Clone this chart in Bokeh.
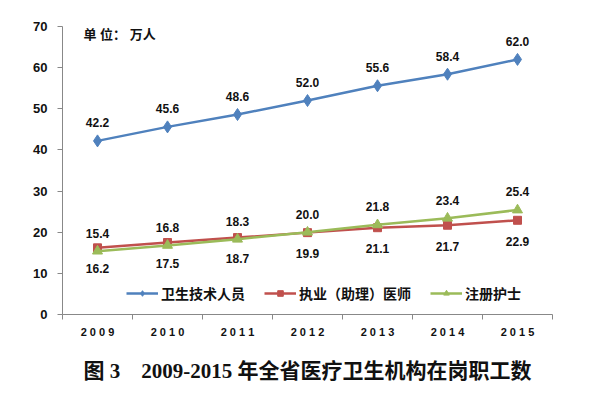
from bokeh.plotting import figure
from bokeh.models import (FixedTicker, Legend, LegendItem, Label, Title, ColumnDataSource, LabelSet, Range1d)
from bokeh.core.properties import value
from bokeh.embed import file_html
from bokeh.resources import INLINE

years = ["2009", "2010", "2011", "2012", "2013", "2014", "2015"]
health_tech = [42.2, 45.6, 48.6, 52.0, 55.6, 58.4, 62.0]
doctors = [16.2, 17.5, 18.7, 19.9, 21.1, 21.7, 22.9]
nurses = [15.4, 16.8, 18.3, 20.0, 21.8, 23.4, 25.4]
series_names = ["卫生技术人员", "执业（助理）医师", "注册护士"]
y_ticks = [0, 10, 20, 30, 40, 50, 60, 70]
unit_text = "单 位： 万人"
caption = "图 3\u00a0\u00a0\u00a0\u00a02009-2015 年全省医疗卫生机构在岗职工数"

BLUE = "#4F81BD"
RED = "#C0504D"
GREEN = "#9BBB59"
CJK = "Liberation Sans, Noto Sans CJK SC"

xs = [i + 0.5 for i in range(len(years))]

p = figure(width=597, height=398, output_backend="svg", toolbar_location=None,
           x_range=Range1d(0, len(years)), y_range=Range1d(0, 70),
           min_border_left=62, min_border_right=45, min_border_top=26, min_border_bottom=20)
p.outline_line_color = None
p.xgrid.visible = False
p.ygrid.visible = False
p.background_fill_color = "white"

# axes
p.yaxis.ticker = FixedTicker(ticks=y_ticks)
p.yaxis.minor_tick_line_color = None
p.yaxis.major_tick_in = 0
p.yaxis.major_tick_out = 5
p.yaxis.axis_line_color = "#888888"
p.yaxis.major_tick_line_color = "#888888"
p.yaxis.major_label_text_font = "Liberation Sans"
p.yaxis.major_label_text_font_style = "bold"
p.yaxis.major_label_text_font_size = "13px"
p.yaxis.major_label_text_color = "#111111"
p.yaxis.major_label_standoff = 10

p.xaxis.ticker = FixedTicker(ticks=xs, minor_ticks=list(range(len(years) + 1)))
p.xaxis.major_label_overrides = {x: " ".join(y) for x, y in zip(xs, years)}
p.xaxis.major_tick_in = 0
p.xaxis.major_tick_out = 0
p.xaxis.minor_tick_in = 0
p.xaxis.minor_tick_out = 5
p.xaxis.axis_line_color = "#888888"
p.xaxis.minor_tick_line_color = "#888888"
p.xaxis.major_label_text_font = "Liberation Sans"
p.xaxis.major_label_text_font_style = "bold"
p.xaxis.major_label_text_font_size = "11px"
p.xaxis.major_label_text_color = "#111111"
p.xaxis.major_label_standoff = 6

# series
src = ColumnDataSource(dict(x=xs, a=health_tech, b=doctors, c=nurses,
                            at=[f"{v:.1f}" for v in health_tech],
                            bt=[f"{v:.1f}" for v in doctors],
                            ct=[f"{v:.1f}" for v in nurses]))

la = p.line("x", "a", source=src, color=BLUE, line_width=2.5)
ma = p.scatter("x", "a", source=src, marker="diamond", size=12, color=BLUE)
lb = p.line("x", "b", source=src, color=RED, line_width=2.5)
mb = p.scatter("x", "b", source=src, marker="square", size=8, color=RED)
lc = p.line("x", "c", source=src, color=GREEN, line_width=2.5)
mc = p.scatter("x", "c", source=src, marker="triangle", size=10, color=GREEN)

def labels(col, ycol, off):
    return LabelSet(x="x", y=ycol, text=col, source=src, y_offset=off,
                    text_align="center", text_baseline="middle",
                    text_font=value("Liberation Sans"), text_font_style="bold",
                    text_font_size="12px", text_color="#111111")

p.add_layout(labels("at", "a", 18))
p.add_layout(labels("bt", "b", -21))
p.add_layout(labels("ct", "c", 18))

legend = Legend(items=[LegendItem(label=series_names[0], renderers=[la, ma]),
                       LegendItem(label=series_names[1], renderers=[lb, mb]),
                       LegendItem(label=series_names[2], renderers=[lc, mc])],
                orientation="horizontal", location=(64, 11),
                background_fill_alpha=0, border_line_color=None,
                label_text_font=CJK, label_text_font_style="bold",
                label_text_font_size="14px", label_text_color="#111111",
                glyph_width=32, glyph_height=14, spacing=19, label_standoff=3,
                padding=4, margin=0)
p.add_layout(legend, "center")

p.add_layout(Label(x=0.3, y=68.0, text=unit_text, text_baseline="middle",
                   text_font=CJK, text_font_style="bold",
                   text_font_size="13px", text_color="#111111"))

title = Title(text=caption, align="center", text_font="Liberation Serif, Noto Sans CJK SC",
              text_font_style="bold", text_font_size="21px", text_color="#111111",
              standoff=32, offset=0)
p.add_layout(title, "below")

open("out.html", "w").write(file_html(p, INLINE))
